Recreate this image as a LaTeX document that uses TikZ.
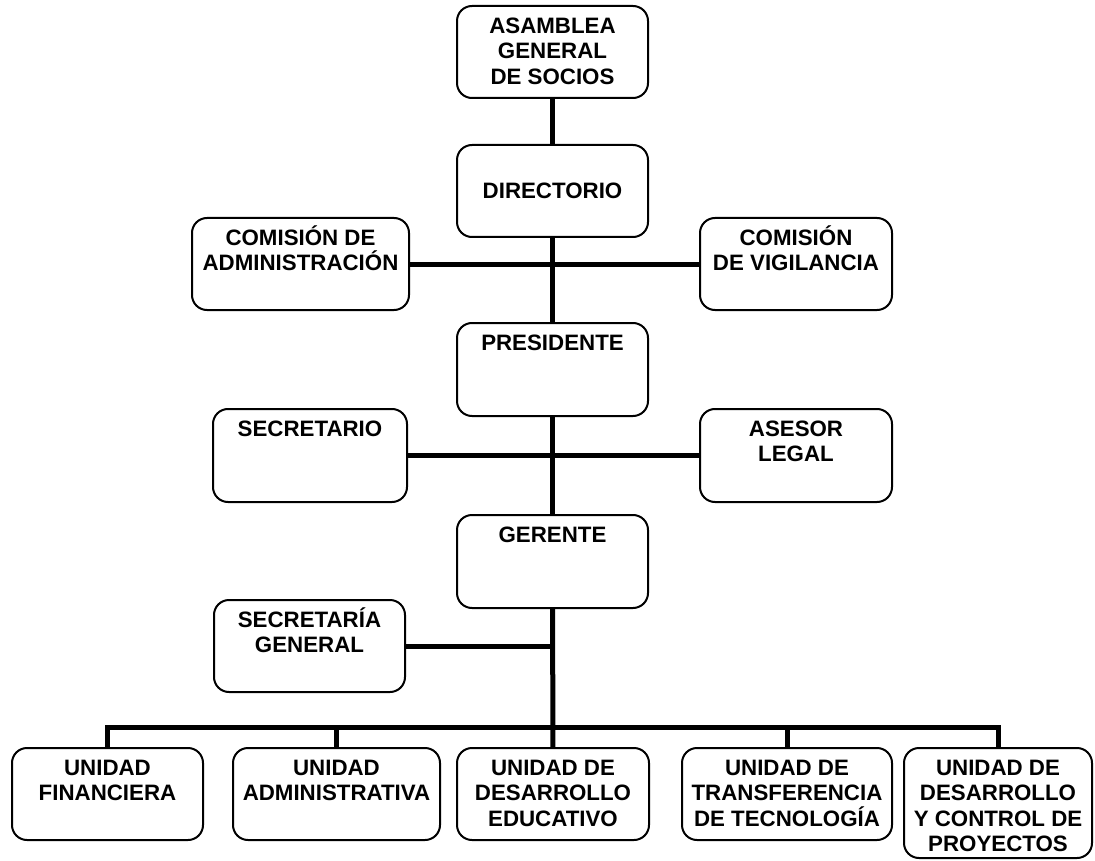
\documentclass[tikz,border=0pt]{standalone}
\usepackage{fontspec}
\setmainfont{Liberation Sans}
% box from left/top/right/bottom (pixel-like units, y grows downwards)
\newcommand\orgbox[5]{%
  \node[box, minimum width={(#4-#2)*1pt}, minimum height={(#5-#3)*1pt}]
    (#1) at ({(#2+#4)/2},{(#3+#5)/2}) {};}
% strut that fixes the height of a label's first line
\newcommand\firstln{\rule{0pt}{21pt}}
\begin{document}
\begin{tikzpicture}[x=1pt,y=-1pt,
  box/.style={draw, line width=2pt, rounded corners=15pt, inner sep=0pt},
  lbl/.style={inner sep=0pt, align=center, anchor=north, yshift=-7pt,
    font=\fontsize{22.3}{25.5}\selectfont\bfseries},
  link/.style={line width=5pt}]
\useasboundingbox (0,0) rectangle (1095,861);

% boxes
\orgbox{asamblea}{457}{6}{648}{98}
\orgbox{directorio}{457}{145}{648}{237}
\orgbox{comadm}{192}{218}{409}{310}
\orgbox{comvig}{700}{218}{892}{310}
\orgbox{presidente}{457}{323}{648}{416}
\orgbox{secretario}{213}{409}{407}{502}
\orgbox{asesor}{700}{409}{892}{502}
\orgbox{gerente}{457}{515}{648}{608}
\orgbox{secgen}{214}{600}{405}{692}
\orgbox{ufin}{12}{748}{203}{840}
\orgbox{uadm}{233}{748}{440}{840}
\orgbox{uedu}{457}{748}{649}{840}
\orgbox{utra}{682}{748}{892}{840}
\orgbox{upro}{904}{748}{1092}{858}

% labels
\node[lbl] (asamblea-t) at (asamblea.north) {\firstln ASAMBLEA\\GENERAL\\DE SOCIOS};
\node[inner sep=0pt, font=\fontsize{22.3}{25.5}\selectfont\bfseries] (directorio-t) at (directorio.center) {DIRECTORIO};
\node[lbl] (comadm-t) at (comadm.north) {\firstln COMISIÓN DE\\ADMINISTRACIÓN};
\node[lbl] (comvig-t) at (comvig.north) {\firstln COMISIÓN\\DE VIGILANCIA};
\node[lbl] (presidente-t) at (presidente.north) {\firstln PRESIDENTE};
\node[lbl] (secretario-t) at (secretario.north) {\firstln SECRETARIO};
\node[lbl] (asesor-t) at (asesor.north) {\firstln ASESOR\\LEGAL};
\node[lbl] (gerente-t) at (gerente.north) {\firstln GERENTE};
\node[lbl] (secgen-t) at (secgen.north) {\firstln SECRETARÍA\\GENERAL};
\node[lbl] (ufin-t) at (ufin.north) {\firstln UNIDAD\\FINANCIERA};
\node[lbl] (uadm-t) at (uadm.north) {\firstln UNIDAD\\ADMINISTRATIVA};
\node[lbl] (uedu-t) at (uedu.north) {\firstln UNIDAD DE\\DESARROLLO\\EDUCATIVO};
\node[lbl] (utra-t) at (utra.north) {\firstln UNIDAD DE\\TRANSFERENCIA\\DE TECNOLOGÍA};
\node[lbl] (upro-t) at (upro.north) {\firstln UNIDAD DE\\DESARROLLO\\Y CONTROL DE\\PROYECTOS};

% connectors
\draw[link] (asamblea) -- (directorio);
\draw[link] (directorio) -- (presidente);
\draw[link] (presidente) -- (gerente);
\draw[link] (gerente) -- (uedu);
\draw[link] (comadm) -- (comvig);
\draw[link] (secretario) -- (asesor);
\draw[link] (secgen.east) -- (secgen.east -| gerente.south);
\coordinate (bus) at (553,727);
\draw[link] (ufin.north) |- (bus) -| (upro.north);
\draw[link] (uadm.north) -- (uadm.north |- bus);
\draw[link] (utra.north) -- (utra.north |- bus);
\end{tikzpicture}
\end{document}
